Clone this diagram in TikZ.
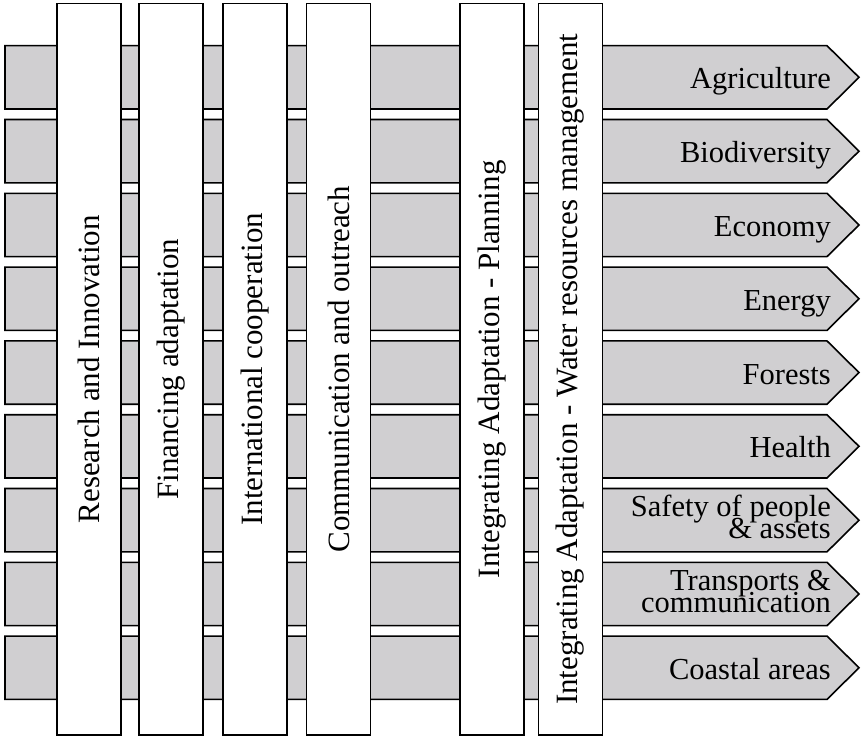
\documentclass[tikz,border=0pt]{standalone}
\usepackage{fontspec}
\setmainfont{Liberation Serif}
\definecolor{barfill}{RGB}{208,207,209}
\begin{document}
\begin{tikzpicture}[x=1pt,y=-1pt,
  rowbar/.style={draw=black, fill=barfill, line width=1.6pt, line join=miter},
  colbar/.style={draw=black, fill=white, line width=1.6pt, rotate=90,
    minimum width=731.5pt, minimum height=64pt, inner sep=0pt,
    font=\fontsize{31}{31}\selectfont},
  rowlabel/.style={anchor=base east, align=right, inner sep=0pt,
    font=\fontsize{30.5}{21}\selectfont}]
\useasboundingbox (0,0) rectangle (861,738);

% sector arrows, one per row
\foreach \lab/\dy [count=\i from 0] in {
    Agriculture/11.5, Biodiversity/11.5, Economy/11.5, Energy/11.5,
    Forests/11.5, Health/11.5, {Safety of people\\[-6pt]\& assets}/18,
    {Transports \&\\[-6pt]communication}/18.5, Coastal areas/11.5} {
  \pgfmathsetmacro\t{45.7+73.8*\i}
  \pgfmathsetmacro\b{\t+63.3}
  \pgfmathsetmacro\m{\t+31.65}
  \draw[rowbar] (5,\t) -- (827,\t) -- (859,\m) -- (827,\b) -- (5,\b) -- cycle;
  \node[rowlabel] (r\i) at (831,\m+\dy) {\lab};
}

% cross-cutting themes, drawn over the sector arrows
\node[colbar] (c1) at (89,369.25)    {Research and Innovation};
\node[colbar] (c2) at (171,369.25)   {Financing adaptation};
\node[colbar] (c3) at (255,369.25)   {International cooperation};
\node[colbar] (c4) at (338.5,369.25) {Communication and outreach};
\node[colbar] (c5) at (492,369.25)   {Integrating Adaptation - Planning};
\node[colbar] (c6) at (570.5,369.25) {Integrating Adaptation - Water resources management};
\end{tikzpicture}
\end{document}
